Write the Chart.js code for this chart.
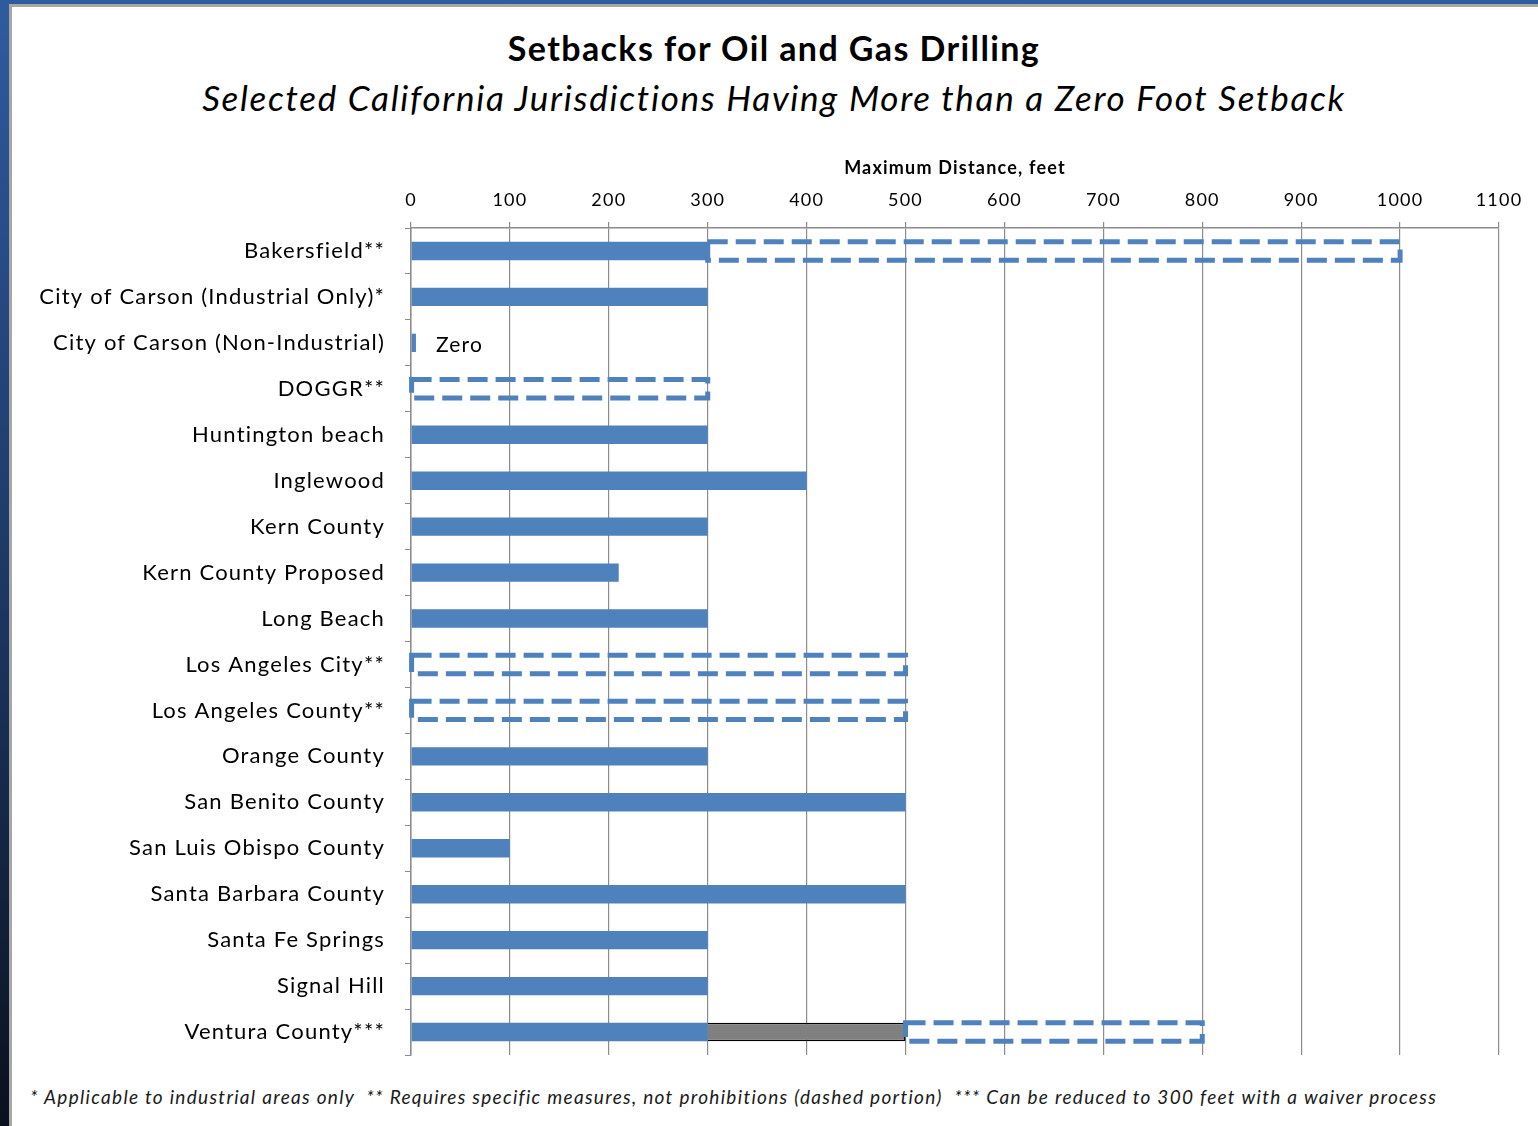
<!DOCTYPE html>
<html>
<head>
<meta charset="utf-8">
<script src="https://cdn.jsdelivr.net/npm/chart.js@4/dist/chart.umd.min.js"></script>
<style>
  html, body { margin: 0; padding: 0; width: 1538px; height: 1126px; overflow: hidden; }
  body { background: linear-gradient(#2f5b9e, #1c3560 55%, #0a111e); position: relative; font-family: Lato, sans-serif; }
  #panel { position: absolute; left: 9px; top: 4px; width: 1540px; height: 1130px; background: #fff;
           border-left: 3px solid #a6a6a6; border-top: 3px solid #a6a6a6; }
  .txt { position: absolute; left: 0; width: 1548px; text-align: center; color: #000; white-space: pre; }
  #title { top: 27px; font-weight: bold; font-size: 34px; letter-spacing: 1.4px; }
  #subtitle { top: 76px; font-style: italic; font-size: 35px; letter-spacing: 1.7px; }
  #foot { top: 1085px; left: 30px; width: auto; text-align: left; font-style: italic; font-size: 19px; letter-spacing: 1.3px; color: #1a1a1a; }
  canvas { position: absolute; left: 0; top: 0; }
</style>
</head>
<body>
<div id="panel"></div>
<div class="txt" id="title">Setbacks for Oil and Gas Drilling</div>
<div class="txt" id="subtitle">Selected California Jurisdictions Having More than a Zero Foot Setback</div>
<div class="txt" id="foot">* Applicable to industrial areas only  ** Requires specific measures, not prohibitions (dashed portion)  *** Can be reduced to 300 feet with a waiver process</div>
<canvas id="chart" width="1538" height="1126"></canvas>
<script>
// jurisdictions (top to bottom)
const places = [
  'Bakersfield**', 'City of Carson (Industrial Only)*', 'City of Carson (Non-Industrial)', 'DOGGR**',
  'Huntington beach', 'Inglewood', 'Kern County', 'Kern County Proposed', 'Long Beach',
  'Los Angeles City**', 'Los Angeles County**', 'Orange County', 'San Benito County',
  'San Luis Obispo County', 'Santa Barbara County', 'Santa Fe Springs', 'Signal Hill', 'Ventura County***'
];
// prohibition setback (solid)
const solidFeet = [300, 300, 5, 0, 300, 400, 300, 210, 300, 0, 0, 300, 500, 100, 500, 300, 300, 300];
// waiver portion (grey)
const waiverFeet = [0, 0, 0, 0, 0, 0, 0, 0, 0, 0, 0, 0, 0, 0, 0, 0, 0, 200];
// specific measures portion (dashed)
const measureFeet = [700, 0, 0, 300, 0, 0, 0, 0, 0, 500, 500, 0, 0, 0, 0, 0, 0, 300];
const barNotes = ['', '', 'Zero', '', '', '', '', '', '', '', '', '', '', '', '', '', '', ''];
const xTicks = [0, 100, 200, 300, 400, 500, 600, 700, 800, 900, 1000, 1100];

const blue = '#4f81bd';
const gridCol = '#8c8c8c';

// calibri-ish spacing for all canvas text
const spacingPlugin = {
  id: 'spacing',
  beforeDraw(chart) { chart.ctx.letterSpacing = '1.2px'; }
};

// dashed outline for the "measures" dataset + Zero note
const dashPlugin = {
  id: 'dashBars',
  afterDatasetsDraw(chart) {
    const ctx = chart.ctx;
    const meta = chart.getDatasetMeta(2);
    ctx.save();
    ctx.strokeStyle = blue;
    ctx.lineWidth = 5;
    ctx.setLineDash([20, 8]);
    meta.data.forEach((el, i) => {
      if (!measureFeet[i]) return;
      const p = el.getProps(['x', 'y', 'base', 'height'], true);
      const h = p.height;
      ctx.strokeRect(p.base, p.y - h / 2, p.x - p.base, h);
    });
    ctx.restore();
    const m0 = chart.getDatasetMeta(0);
    ctx.save();
    ctx.font = '21px Lato, sans-serif';
    ctx.fillStyle = '#000';
    ctx.textBaseline = 'middle';
    m0.data.forEach((el, i) => {
      if (!barNotes[i]) return;
      const p = el.getProps(['x', 'y'], true);
      ctx.fillText(barNotes[i], p.x + 20, p.y + 2);
    });
    ctx.restore();
  }
};

new Chart(document.getElementById('chart'), {
  type: 'bar',
  data: {
    labels: places,
    datasets: [
      { data: solidFeet, backgroundColor: blue, borderWidth: 0, barPercentage: 0.8, categoryPercentage: 0.5 },
      { data: waiverFeet, backgroundColor: '#808080', borderColor: '#000', borderWidth: 1.5, barPercentage: 0.8, categoryPercentage: 0.5 },
      { data: measureFeet, backgroundColor: 'rgba(0,0,0,0)', borderWidth: 0, barPercentage: 0.8, categoryPercentage: 0.5 }
    ]
  },
  options: {
    indexAxis: 'y',
    responsive: false,
    animation: false,
    layout: { padding: { left: 11, top: 150, right: 39, bottom: 71 } },
    plugins: { legend: { display: false }, tooltip: { enabled: false } },
    scales: {
      x: {
        position: 'top',
        stacked: true,
        min: 0, max: 1100,
        afterBuildTicks: s => { s.ticks = xTicks.map(v => ({ value: v })); },
        afterFit: s => { s.height = 78; },
        ticks: { color: '#000', font: { family: 'Lato', size: 18 }, padding: 11, callback: v => String(v) },
        grid: { color: gridCol, lineWidth: 1.2, tickLength: 6 },
        border: { color: gridCol, width: 1.5 },
        title: { display: true, text: 'Maximum Distance, feet', color: '#000', font: { family: 'Lato', size: 18, weight: 'bold' }, padding: { top: 7, bottom: 0 } }
      },
      y: {
        stacked: true,
        afterFit: s => { s.width = 400; },
        ticks: { color: '#000', font: { family: 'Lato', size: 22 }, padding: 20 },
        grid: { drawOnChartArea: false, color: gridCol, tickLength: 6, offset: true },
        border: { color: gridCol, width: 1.5 }
      }
    }
  },
  plugins: [spacingPlugin, dashPlugin]
});
</script>
</body>
</html>
